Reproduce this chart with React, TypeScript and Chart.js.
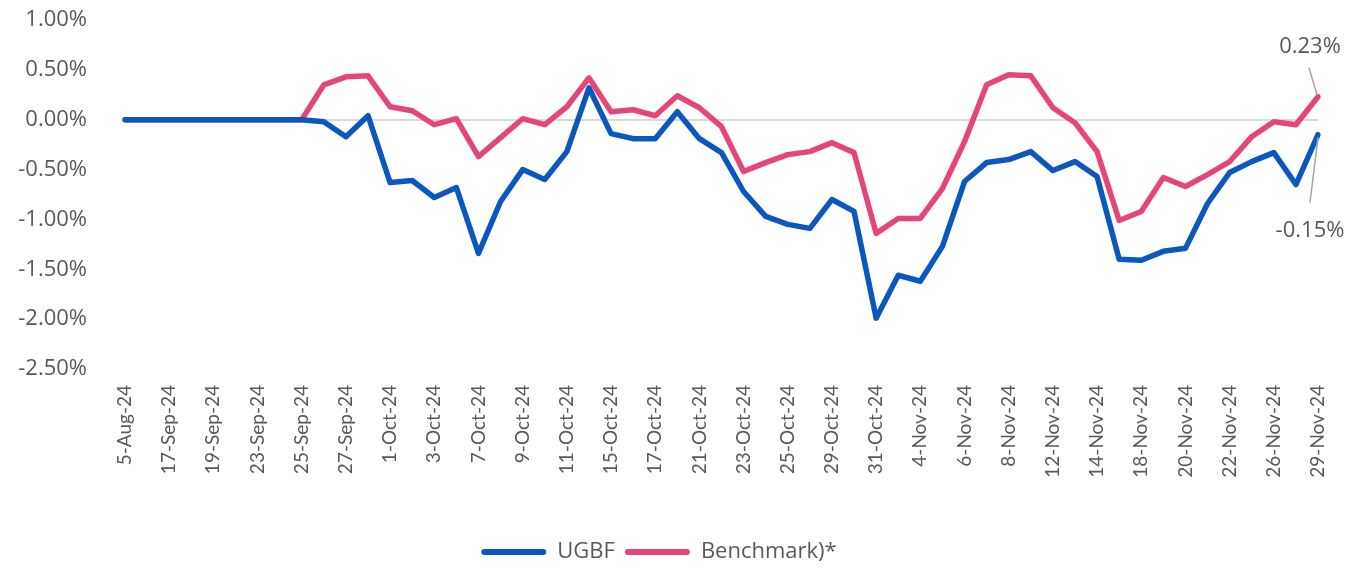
import React, { useEffect, useRef } from "react";
import { Chart, registerables } from "chart.js";

Chart.register(...registerables);

const categories = [
  "5-Aug-24", "16-Sep-24", "17-Sep-24", "18-Sep-24", "19-Sep-24", "20-Sep-24", "23-Sep-24", "24-Sep-24",
  "25-Sep-24", "26-Sep-24", "27-Sep-24", "30-Sep-24", "1-Oct-24", "2-Oct-24", "3-Oct-24", "4-Oct-24",
  "7-Oct-24", "8-Oct-24", "9-Oct-24", "10-Oct-24", "11-Oct-24", "14-Oct-24", "15-Oct-24", "16-Oct-24",
  "17-Oct-24", "18-Oct-24", "21-Oct-24", "22-Oct-24", "23-Oct-24", "24-Oct-24", "25-Oct-24", "28-Oct-24",
  "29-Oct-24", "30-Oct-24", "31-Oct-24", "1-Nov-24", "4-Nov-24", "5-Nov-24", "6-Nov-24", "7-Nov-24",
  "8-Nov-24", "11-Nov-24", "12-Nov-24", "13-Nov-24", "14-Nov-24", "15-Nov-24", "18-Nov-24", "19-Nov-24",
  "20-Nov-24", "21-Nov-24", "22-Nov-24", "25-Nov-24", "26-Nov-24", "27-Nov-24", "29-Nov-24",
];

const ugbf = [
  0, 0, 0, 0, 0, 0, 0, 0,
  0, -0.02, -0.17, 0.04, -0.63, -0.61, -0.78, -0.68,
  -1.34, -0.82, -0.5, -0.6, -0.32, 0.32, -0.14, -0.19,
  -0.19, 0.08, -0.19, -0.33, -0.72, -0.97, -1.05, -1.09,
  -0.8, -0.92, -1.99, -1.56, -1.62, -1.27, -0.62, -0.43,
  -0.4, -0.32, -0.51, -0.42, -0.57, -1.4, -1.41, -1.32,
  -1.29, -0.84, -0.53, -0.42, -0.33, -0.65, -0.15,
];

const benchmark = [
  0, 0, 0, 0, 0, 0, 0, 0,
  0, 0.35, 0.43, 0.44, 0.13, 0.09, -0.05, 0.01,
  -0.37, -0.18, 0.01, -0.05, 0.13, 0.42, 0.08, 0.1,
  0.04, 0.24, 0.12, -0.07, -0.52, -0.43, -0.35, -0.32,
  -0.23, -0.33, -1.14, -0.99, -0.99, -0.69, -0.22, 0.35,
  0.45, 0.44, 0.12, -0.03, -0.32, -1.01, -0.92, -0.58,
  -0.67, -0.55, -0.42, -0.17, -0.02, -0.05, 0.23,
];

const seriesNames = ["UGBF", "Benchmark)*"];
const seriesColors = ["#0A57BF", "#E6457A"];
const yMin = -2.5;
const yMax = 1.0;
const yStep = 0.5;

const WIDE_FONT = "'Open Sans', 'Noto Sans', sans-serif";
const NARROW_FONT = "Lato, 'Noto Sans', sans-serif";
const TEXT = "#595959";

// label placement for the last point of each series (offsets in px)
const endLabelStyle = [
  { dx: -8, dy: 96, lx1: -8, ly1: 68, lx2: 0, ly2: 3 },
  { dx: -8, dy: -50, lx1: -9, ly1: -29, lx2: -1, ly2: -2 },
];

const endLabelsPlugin = {
  id: "endLabels",
  afterDatasetsDraw(chart: any) {
    const ctx = chart.ctx;
    ctx.save();
    chart.data.datasets.forEach((ds: any, i: number) => {
      const meta = chart.getDatasetMeta(i);
      const n = ds.data.length - 1;
      const pt = meta.data[n];
      if (!pt) return;
      const s = endLabelStyle[i];
      ctx.strokeStyle = "#A6A6A6";
      ctx.lineWidth = 1.5;
      ctx.beginPath();
      ctx.moveTo(pt.x + s.lx1, pt.y + s.ly1);
      ctx.lineTo(pt.x + s.lx2, pt.y + s.ly2);
      ctx.stroke();
      ctx.fillStyle = TEXT;
      ctx.font = `22px ${WIDE_FONT}`;
      ctx.textAlign = "center";
      ctx.textBaseline = "middle";
      ctx.fillText(ds.data[n].toFixed(2) + "%", pt.x + s.dx, pt.y + s.dy);
    });
    ctx.restore();
  },
};

const legendShiftPlugin = {
  id: "legendShift",
  afterLayout(chart: any) {
    const lg = chart.legend;
    if (lg) {
      lg.top += 2;
      lg.bottom += 2;
    }
  },
};

export default function App() {
  const ref = useRef<HTMLCanvasElement | null>(null);

  useEffect(() => {
    if (!ref.current) return;
    const chart = new Chart(ref.current, {
      type: "line",
      data: {
        labels: categories,
        datasets: [
          {
            label: seriesNames[0],
            data: ugbf,
            borderColor: seriesColors[0],
            backgroundColor: seriesColors[0],
            borderWidth: 5.5,
            pointRadius: 0,
            borderJoinStyle: "round",
            borderCapStyle: "round",
            tension: 0,
          },
          {
            label: seriesNames[1],
            data: benchmark,
            borderColor: seriesColors[1],
            backgroundColor: seriesColors[1],
            borderWidth: 5.5,
            pointRadius: 0,
            borderJoinStyle: "round",
            borderCapStyle: "round",
            tension: 0,
          },
        ],
      },
      options: {
        animation: false,
        responsive: true,
        maintainAspectRatio: false,
        layout: { padding: { left: 0, right: 50, top: 20, bottom: 0 } },
        scales: {
          x: {
            type: "category",
            offset: false,
            grid: { display: false, drawTicks: false },
            border: { display: false },
            ticks: {
              autoSkip: false,
              minRotation: 90,
              maxRotation: 90,
              padding: 16,
              color: TEXT,
              font: { size: 19, family: NARROW_FONT },
              callback: (_v: any, i: number) => (i % 2 === 0 ? categories[i] : ""),
            },
            afterFit: (scale: any) => {
              scale.height = 160;
            },
          },
          y: {
            min: yMin,
            max: yMax,
            grid: {
              drawTicks: false,
              color: (c: any) => (c.tick && c.tick.value === 0 ? "#D9D9D9" : "rgba(0,0,0,0)"),
              lineWidth: 2,
            },
            border: { display: false },
            ticks: {
              stepSize: yStep,
              padding: 38,
              color: TEXT,
              font: { size: 22, family: WIDE_FONT },
              callback: (v: any) => Number(v).toFixed(2) + "%",
            },
            afterFit: (scale: any) => {
              scale.width = 125;
              scale.paddingTop = 10;
              scale.paddingBottom = 10;
            },
          },
        },
        plugins: {
          tooltip: { enabled: false },
          legend: {
            position: "bottom",
            labels: {
              color: TEXT,
              font: { size: 22, family: WIDE_FONT },
              padding: 10,
              generateLabels: (chart: any) =>
                chart.data.datasets.map((ds: any, i: number) => ({
                  text: ds.label,
                  fillStyle: ds.borderColor,
                  strokeStyle: ds.borderColor,
                  lineWidth: 0,
                  hidden: false,
                  datasetIndex: i,
                  fontColor: TEXT,
                  borderRadius: 3,
                })),
              boxWidth: 65,
              boxHeight: 6,
            },
          },
        },
      },
      plugins: [endLabelsPlugin, legendShiftPlugin],
    } as any);
    return () => chart.destroy();
  }, []);

  return (
    <div style={{ position: "absolute", left: 0, top: 0, width: 1368, height: 571, background: "#fff" }}>
      <canvas ref={ref} />
    </div>
  );
}
